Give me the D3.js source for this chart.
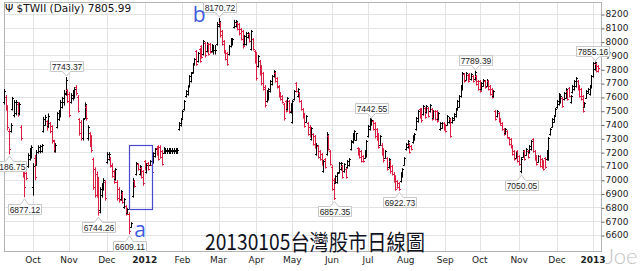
<!DOCTYPE html>
<html>
<head>
<meta charset="utf-8">
<script src="https://cdn.jsdelivr.net/npm/d3@7/dist/d3.min.js"></script>
<style>
  html, body { margin: 0; padding: 0; background: #fff; }
  svg { display: block; }
</style>
</head>
<body>
<svg class="mainSvg"></svg>
<script>
// ===========================================================================
//     data area
// ===========================================================================
const title = '$TWII (Daily) 7805.99';
const caption = '20130105台灣股市日線圖';

// first bar index of each month and its label
const monthStarts = [17, 38, 60, 82, 104, 125, 147, 168, 191, 212, 234, 257, 277, 300, 322, 343];
const monthLabels = ['Oct', 'Nov', 'Dec', '2012', 'Feb', 'Mar', 'Apr', 'May', 'Jun', 'Jul', 'Aug', 'Sep', 'Oct', 'Nov', 'Dec', '2013'];

const yTicks = [6600, 6700, 6800, 6900, 7000, 7100, 7200, 7300, 7400, 7500, 7600, 7700, 7800, 7900, 8000, 8100, 8200];

// daily bars, [open, high, low, close], 2011-09-08 .. 2013-01-04
const bars = [
  // Sep 2011
  [7565, 7657, 7548, 7640], [7600, 7613, 7504, 7515], [7520, 7540, 7360, 7380], [7350, 7370, 7187, 7220],
  [7355, 7410, 7345, 7400], [7515, 7600, 7505, 7590], [7470, 7577, 7455, 7560], [7480, 7577, 7470, 7565],
  [7550, 7562, 7460, 7475], [7480, 7560, 7470, 7545], [7385, 7395, 7287, 7300], [7075, 7084, 7019, 7030],
  [7100, 7120, 6877, 6950], [7050, 7060, 7000, 7010], [7100, 7192, 7090, 7180], [7150, 7230, 7142, 7220],
  [7170, 7250, 7157, 7240],
  // Oct 2011
  [6950, 7120, 6888, 7100], [7160, 7180, 7000, 7020], [7110, 7215, 7105, 7200], [7200, 7250, 7193, 7240],
  [7205, 7252, 7195, 7245], [7210, 7258, 7200, 7250], [7350, 7455, 7345, 7440], [7400, 7470, 7395, 7455],
  [7425, 7430, 7360, 7380], [7390, 7480, 7380, 7465], [7410, 7418, 7340, 7350], [7390, 7395, 7265, 7280],
  [7285, 7290, 7200, 7220], [7210, 7265, 7200, 7255], [7380, 7490, 7375, 7480], [7440, 7505, 7430, 7495],
  [7470, 7577, 7455, 7560], [7530, 7600, 7520, 7590], [7560, 7650, 7540, 7620], [7630, 7743, 7612, 7720],
  [7650, 7655, 7560, 7570],
  // Nov 2011
  [7620, 7635, 7455, 7470], [7560, 7627, 7555, 7610], [7590, 7650, 7577, 7640], [7600, 7670, 7590, 7660],
  [7675, 7685, 7613, 7630], [7600, 7613, 7490, 7500], [7440, 7446, 7323, 7335], [7420, 7432, 7287, 7300],
  [7300, 7446, 7287, 7440], [7450, 7560, 7446, 7545], [7530, 7540, 7432, 7445], [7300, 7395, 7287, 7380],
  [7335, 7345, 7240, 7255], [7310, 7323, 7200, 7215], [7150, 7160, 6930, 6950], [7080, 7090, 6874, 6890],
  [7040, 7060, 6874, 6890], [7000, 7020, 6744, 6770], [6780, 6946, 6760, 6930], [6890, 6975, 6874, 6965],
  [6940, 7012, 6925, 7000], [6985, 6997, 6852, 6870],
  // Dec 2011
  [7130, 7200, 7120, 7190], [7150, 7200, 7142, 7185], [7155, 7165, 7092, 7100], [7110, 7120, 7019, 7030],
  [7060, 7070, 6975, 6985], [7005, 7084, 6997, 7075], [6985, 6997, 6852, 6865], [6935, 6946, 6838, 6850],
  [6860, 6925, 6852, 6915], [6900, 6910, 6830, 6840], [6800, 6867, 6794, 6860], [6810, 6816, 6744, 6750],
  [6762, 6794, 6758, 6788], [6755, 6765, 6609, 6630], [6660, 6693, 6657, 6688], [6880, 7012, 6874, 7000],
  [6990, 6997, 6946, 6955], [7040, 7128, 7034, 7120], [7115, 7120, 7070, 7080], [7040, 7106, 7034, 7100],
  [7085, 7092, 7012, 7020], [7060, 7070, 6960, 6975],
  // Jan 2012 (holiday days are flat filler bars)
  [7135, 7142, 7070, 7080], [7055, 7120, 7048, 7110], [7120, 7128, 7070, 7080], [7110, 7142, 7106, 7138],
  [7110, 7120, 7048, 7055], [7125, 7200, 7120, 7195], [7170, 7230, 7164, 7225], [7230, 7236, 7178, 7185],
  [7245, 7250, 7142, 7150], [7240, 7250, 7157, 7165], [7210, 7215, 7106, 7115], [7195, 7236, 7193, 7230],
  [7210, 7230, 7190, 7212], [7210, 7230, 7190, 7212], [7210, 7230, 7190, 7212], [7210, 7230, 7190, 7212],
  [7210, 7230, 7190, 7212], [7210, 7230, 7190, 7212], [7210, 7230, 7190, 7212], [7210, 7230, 7190, 7212],
  [7365, 7418, 7359, 7410], [7395, 7447, 7389, 7440],
  // Feb 2012
  [7450, 7504, 7446, 7500], [7510, 7577, 7504, 7570], [7605, 7649, 7599, 7645], [7620, 7685, 7613, 7680],
  [7680, 7758, 7671, 7750], [7715, 7780, 7707, 7775], [7780, 7845, 7772, 7840], [7835, 7881, 7830, 7875],
  [7930, 7939, 7830, 7840], [7860, 7925, 7852, 7920], [7945, 7954, 7852, 7860], [7965, 7975, 7881, 7890],
  [7910, 8012, 7903, 8005], [7990, 7997, 7888, 7900], [7930, 7997, 7925, 7990], [7980, 7990, 7903, 7910],
  [7980, 7990, 7917, 7925], [7930, 7983, 7925, 7975], [7940, 7975, 7910, 7942], [7940, 7975, 7910, 7942],
  [7985, 8142, 7975, 8130],
  // Mar 2012
  [8110, 8171, 8106, 8150], [8135, 8142, 8033, 8045], [8075, 8084, 7975, 7985], [8005, 8012, 7917, 7925],
  [7930, 7939, 7867, 7875], [7915, 7925, 7830, 7840], [7910, 7975, 7903, 7970], [7965, 8026, 7961, 8020],
  [7980, 8026, 7975, 8020], [8105, 8157, 8099, 8145], [8110, 8157, 8106, 8150], [8135, 8142, 8084, 8090],
  [8125, 8135, 8048, 8060], [8090, 8099, 8012, 8020], [8075, 8084, 7954, 7965], [7980, 8048, 7975, 8040],
  [7985, 8070, 7975, 8060], [8030, 8070, 8026, 8065], [8055, 8062, 7997, 8005], [7950, 8084, 7939, 8075],
  [8020, 8026, 7939, 7945], [7930, 7939, 7845, 7855],
  // Apr 2012
  [7915, 7925, 7722, 7735], [7820, 7903, 7816, 7895], [7860, 7867, 7758, 7770], [7820, 7830, 7686, 7700],
  [7770, 7780, 7649, 7660], [7675, 7686, 7526, 7540], [7570, 7649, 7562, 7640], [7585, 7664, 7577, 7655],
  [7640, 7722, 7635, 7715], [7690, 7758, 7686, 7750], [7750, 7794, 7743, 7790], [7770, 7780, 7707, 7715],
  [7735, 7743, 7664, 7670], [7680, 7686, 7599, 7610], [7625, 7635, 7577, 7585], [7605, 7613, 7555, 7565],
  [7545, 7555, 7432, 7445], [7570, 7577, 7490, 7500], [7510, 7599, 7504, 7590], [7570, 7577, 7483, 7495],
  [7490, 7555, 7483, 7545],
  // May 2012
  [7420, 7577, 7410, 7570], [7585, 7649, 7577, 7640], [7700, 7707, 7635, 7645], [7605, 7664, 7599, 7660],
  [7625, 7635, 7562, 7570], [7570, 7577, 7504, 7510], [7510, 7519, 7446, 7455], [7475, 7483, 7381, 7390],
  [7420, 7468, 7417, 7460], [7410, 7417, 7323, 7330], [7385, 7396, 7309, 7320], [7295, 7381, 7287, 7375],
  [7330, 7337, 7251, 7260], [7315, 7323, 7229, 7240], [7185, 7265, 7178, 7255], [7245, 7251, 7157, 7165],
  [7205, 7215, 7142, 7150], [7185, 7193, 7106, 7115], [7060, 7142, 7055, 7135], [7150, 7157, 7084, 7090],
  [7185, 7345, 7178, 7330], [7315, 7323, 7215, 7225], [7205, 7215, 7106, 7115],
  // Jun 2012
  [7095, 7106, 6925, 6935], [7000, 7012, 6857, 6870], [6980, 7033, 6975, 7025], [6985, 7055, 6975, 7050],
  [7055, 7128, 7048, 7120], [7075, 7128, 7070, 7120], [7100, 7106, 7012, 7020], [7060, 7120, 7055, 7115],
  [7075, 7084, 7012, 7020], [7090, 7142, 7084, 7135], [7105, 7157, 7099, 7150], [7220, 7287, 7215, 7280],
  [7270, 7338, 7265, 7330], [7295, 7359, 7287, 7350], [7290, 7338, 7287, 7335], [7230, 7236, 7178, 7185],
  [7220, 7229, 7157, 7165], [7205, 7215, 7128, 7135], [7170, 7178, 7128, 7135], [7160, 7215, 7157, 7210],
  [7170, 7287, 7164, 7280],
  // Jul 2012
  [7315, 7396, 7309, 7390], [7365, 7446, 7359, 7440], [7400, 7443, 7396, 7435], [7425, 7432, 7359, 7370],
  [7410, 7417, 7302, 7315], [7365, 7374, 7287, 7295], [7330, 7338, 7229, 7240], [7255, 7323, 7251, 7315],
  [7255, 7265, 7178, 7190], [7220, 7229, 7128, 7140], [7160, 7215, 7157, 7210], [7155, 7164, 7070, 7080],
  [7090, 7157, 7084, 7150], [7135, 7142, 7048, 7060], [7100, 7106, 7034, 7040], [7045, 7055, 6983, 6990],
  [7025, 7033, 6925, 6935], [6990, 6997, 6939, 6945], [6975, 6983, 6923, 6930], [6990, 7055, 6983, 7045],
  [7025, 7084, 7019, 7075], [7110, 7164, 7106, 7155],
  // Aug 2012
  [7220, 7265, 7215, 7260], [7235, 7287, 7229, 7280], [7255, 7265, 7193, 7200], [7245, 7251, 7215, 7220],
  [7270, 7323, 7265, 7315], [7290, 7338, 7287, 7330], [7365, 7454, 7359, 7445], [7425, 7504, 7417, 7495],
  [7510, 7519, 7446, 7455], [7510, 7519, 7417, 7430], [7475, 7541, 7468, 7535], [7520, 7526, 7446, 7455],
  [7490, 7541, 7483, 7535], [7520, 7526, 7454, 7460], [7495, 7548, 7490, 7540], [7510, 7519, 7432, 7440],
  [7450, 7504, 7446, 7495], [7495, 7504, 7432, 7440], [7495, 7504, 7417, 7425], [7440, 7490, 7432, 7485],
  [7365, 7417, 7359, 7410], [7378, 7417, 7374, 7412], [7410, 7417, 7359, 7365],
  // Sep 2012
  [7395, 7403, 7345, 7350], [7400, 7468, 7396, 7460], [7415, 7454, 7410, 7450], [7440, 7446, 7309, 7320],
  [7415, 7454, 7410, 7450], [7435, 7482, 7432, 7478], [7460, 7519, 7454, 7510], [7510, 7577, 7504, 7570],
  [7530, 7613, 7526, 7605], [7605, 7686, 7599, 7680], [7655, 7780, 7649, 7770], [7765, 7772, 7707, 7715],
  [7725, 7780, 7722, 7775], [7760, 7765, 7707, 7712], [7765, 7772, 7722, 7730], [7728, 7772, 7722, 7765],
  [7750, 7758, 7707, 7715], [7730, 7789, 7722, 7780], [7750, 7758, 7686, 7695], [7715, 7722, 7649, 7655],
  // Oct 2012
  [7715, 7722, 7635, 7645], [7655, 7707, 7649, 7700], [7682, 7729, 7678, 7722], [7715, 7722, 7664, 7670],
  [7682, 7729, 7678, 7722], [7715, 7722, 7649, 7655], [7680, 7686, 7613, 7620], [7655, 7664, 7591, 7600],
  [7603, 7649, 7599, 7645], [7495, 7504, 7432, 7440], [7460, 7504, 7454, 7498], [7480, 7490, 7417, 7425],
  [7440, 7446, 7396, 7400], [7410, 7417, 7359, 7365], [7365, 7374, 7323, 7330], [7335, 7374, 7330, 7370],
  [7350, 7359, 7302, 7310], [7300, 7309, 7251, 7258], [7295, 7302, 7229, 7235], [7245, 7251, 7178, 7185],
  [7205, 7215, 7142, 7150], [7160, 7200, 7157, 7195], [7205, 7215, 7128, 7135],
  // Nov 2012
  [7170, 7178, 7106, 7115], [7060, 7164, 7050, 7150], [7168, 7215, 7164, 7210], [7205, 7215, 7142, 7150],
  [7182, 7229, 7178, 7222], [7205, 7215, 7157, 7165], [7198, 7251, 7193, 7245], [7220, 7287, 7215, 7280],
  [7295, 7302, 7200, 7210], [7205, 7215, 7142, 7150], [7170, 7178, 7106, 7115], [7132, 7178, 7128, 7170],
  [7170, 7178, 7092, 7100], [7150, 7157, 7084, 7090], [7135, 7142, 7070, 7078], [7155, 7164, 7084, 7092],
  [7148, 7215, 7142, 7208], [7148, 7309, 7142, 7300], [7328, 7374, 7323, 7368], [7385, 7446, 7381, 7440],
  [7420, 7468, 7417, 7462], [7472, 7519, 7468, 7512],
  // Dec 2012
  [7525, 7577, 7519, 7570], [7548, 7628, 7541, 7620], [7560, 7613, 7555, 7605], [7590, 7599, 7526, 7535],
  [7582, 7635, 7577, 7628], [7595, 7664, 7591, 7658], [7640, 7649, 7577, 7585], [7665, 7671, 7599, 7605],
  [7560, 7613, 7555, 7608], [7632, 7686, 7628, 7680], [7655, 7722, 7649, 7715], [7678, 7743, 7671, 7738],
  [7715, 7722, 7649, 7655], [7680, 7686, 7599, 7608], [7655, 7664, 7577, 7585], [7605, 7613, 7490, 7500],
  [7530, 7562, 7526, 7558], [7595, 7649, 7591, 7642], [7630, 7664, 7628, 7660], [7618, 7686, 7613, 7680],
  [7670, 7758, 7664, 7750],
  // Jan 2013
  [7750, 7852, 7743, 7845], [7800, 7855, 7794, 7850], [7838, 7845, 7780, 7790], [7825, 7830, 7780, 7806],
];

// price callouts: bar index, value, side
const callouts = [
  [3, 7186.75, 'low'], [12, 6877.12, 'low'], [36, 7743.37, 'high'], [55, 6744.26, 'low'],
  [73, 6609.11, 'low'], [125, 8170.72, 'high'], [192, 6857.35, 'low'], [214, 7442.55, 'high'],
  [230, 6922.73, 'low'], [274, 7789.39, 'high'], [301, 7050.05, 'low'], [344, 7855.16, 'high'],
];

// hand drawn marks: box around bars (from bar, to bar, top, bottom), letters (bar, price)
const markBox = [74, 86, 7250, 6790];
const markLetters = [['a', 76, 6585], ['b', 110, 8142]];

(function () {
  const initWidth = 640;
  const initHeight = 271;
  const plot = { left: 4, right: 601, top: 2, bottom: 251 };
  const upColor = '#000000';
  const downColor = '#dc1e42';
  const gridColor = '#e3e3e3';
  const blue = '#3f5be0';

  const svg = d3.select('.mainSvg')
    .attr('width', initWidth)
    .attr('height', initHeight);

  const x = d3.scaleLinear()
    .domain([0, bars.length - 1])
    .range([3.8, 598.2]);

  const y = d3.scaleLinear()
    .domain([6600, 8200])
    .range([235, 14]);

  const px = i => Math.round(x(i)) + 0.5;

  // ===========================================================================
  //      grid + frame
  // ===========================================================================
  svg.append('g')
    .selectAll('line')
    .data(yTicks)
    .enter()
    .append('line')
    .attr('x1', plot.left)
    .attr('x2', plot.right)
    .attr('y1', d => Math.round(y(d)) + 0.5)
    .attr('y2', d => Math.round(y(d)) + 0.5)
    .attr('stroke', gridColor);

  svg.append('g')
    .selectAll('line')
    .data(monthStarts)
    .enter()
    .append('line')
    .attr('x1', d => Math.round(x(d)) + 0.5)
    .attr('x2', d => Math.round(x(d)) + 0.5)
    .attr('y1', plot.top)
    .attr('y2', plot.bottom)
    .attr('stroke', gridColor);

  svg.append('rect')
    .attr('x', plot.left + 0.5)
    .attr('y', plot.top + 0.5)
    .attr('width', plot.right - plot.left)
    .attr('height', plot.bottom - plot.top)
    .attr('fill', 'none')
    .attr('stroke', '#b4b4b4');

  // ===========================================================================
  //      axes
  // ===========================================================================
  const yAxis = svg.append('g')
    .attr('transform', `translate(${plot.right + 0.5},0)`)
    .call(d3.axisRight(y).tickValues(yTicks).tickSize(3).tickPadding(1).tickFormat(d3.format('d')));
  yAxis.select('.domain').remove();
  yAxis.selectAll('line').attr('stroke', '#666').attr('transform', 'translate(0,0.5)');
  yAxis.selectAll('text')
    .attr('font-family', '"DejaVu Sans", Verdana, sans-serif')
    .attr('font-size', 9)
    .attr('fill', '#222');

  svg.append('g')
    .selectAll('text')
    .data(monthStarts)
    .enter()
    .append('text')
    .attr('x', d => x(d))
    .attr('y', 263)
    .attr('text-anchor', 'middle')
    .attr('font-family', '"DejaVu Sans", Verdana, sans-serif')
    .attr('font-size', 9)
    .attr('font-weight', (d, i) => (/^\d+$/.test(monthLabels[i]) ? 'bold' : 'normal'))
    .attr('fill', '#222')
    .text((d, i) => monthLabels[i]);

  // ===========================================================================
  //      ohlc bars
  // ===========================================================================
  const barG = svg.append('g')
    .selectAll('g')
    .data(bars)
    .enter()
    .append('g')
    .attr('stroke', d => (d[3] >= d[0] ? upColor : downColor))
    .attr('stroke-width', 1);

  barG.append('line')
    .attr('x1', (d, i) => px(i))
    .attr('x2', (d, i) => px(i))
    .attr('y1', d => y(d[1]))
    .attr('y2', d => y(d[2]) + 0.5);

  barG.append('line')
    .attr('x1', (d, i) => px(i) - 1.5)
    .attr('x2', (d, i) => px(i))
    .attr('y1', d => Math.round(y(d[0])) + 0.5)
    .attr('y2', d => Math.round(y(d[0])) + 0.5);

  barG.append('line')
    .attr('x1', (d, i) => px(i))
    .attr('x2', (d, i) => px(i) + 1.5)
    .attr('y1', d => Math.round(y(d[3])) + 0.5)
    .attr('y2', d => Math.round(y(d[3])) + 0.5);

  // ===========================================================================
  //      title
  // ===========================================================================
  svg.append('rect')
    .attr('x', 5)
    .attr('y', 3)
    .attr('width', 134)
    .attr('height', 10)
    .attr('fill', '#fff');

  svg.append('text')
    .attr('x', 5)
    .attr('y', 12)
    .attr('font-family', '"DejaVu Sans", Verdana, sans-serif')
    .attr('font-size', 10.5)
    .attr('fill', '#111')
    .text('\u03a8 ' + title);

  // ===========================================================================
  //      callouts
  // ===========================================================================
  const boxW = 33;
  const boxH = 10;
  callouts.forEach(function (c) {
    const tipX = px(c[0]);
    const isHigh = c[2] === 'high';
    const tipY = isHigh ? y(c[1]) - 1 : y(c[1]) + 2;
    const cx = Math.min(tipX, 592);
    const left = Math.round(cx - boxW / 2) + 0.5;
    const right = left + boxW;
    const edge = isHigh ? Math.round(tipY - 5) + 0.5 : Math.round(tipY + 5) + 0.5;
    const far = isHigh ? edge - boxH : edge + boxH;
    const d = `M${left},${far} H${right} V${edge} H${tipX + 4} L${tipX},${tipY} L${tipX - 4},${edge} H${left} Z`;
    svg.append('path')
      .attr('d', d)
      .attr('fill', '#fff')
      .attr('stroke', '#c8c8c8');
    svg.append('text')
      .attr('x', (left + right) / 2)
      .attr('y', (edge + far) / 2 + 3)
      .attr('text-anchor', 'middle')
      .attr('font-family', '"Liberation Sans", Arial, sans-serif')
      .attr('font-size', 8.5)
      .attr('fill', '#222')
      .text(c[1].toFixed(2));
  });

  // ===========================================================================
  //      hand marks
  // ===========================================================================
  svg.append('rect')
    .attr('x', Math.round(x(markBox[0]) - 2) + 0.5)
    .attr('y', Math.round(y(markBox[2])) + 0.5)
    .attr('width', Math.round(x(markBox[1]) - x(markBox[0])) + 2)
    .attr('height', Math.round(y(markBox[3]) - y(markBox[2])))
    .attr('fill', 'none')
    .attr('stroke', '#4a4ad0')
    .attr('stroke-width', 1.2);

  svg.append('g')
    .selectAll('text')
    .data(markLetters)
    .enter()
    .append('text')
    .attr('x', d => x(d[1]))
    .attr('y', d => y(d[2]))
    .attr('font-family', '"Open Sans", sans-serif')
    .attr('font-size', 21)
    .attr('fill', blue)
    .text(d => d[0]);

  svg.append('text')
    .attr('x', 205)
    .attr('y', 250)
    .attr('font-family', '"Noto Sans CJK TC", "Noto Sans CJK SC", sans-serif')
    .attr('font-size', 22)
    .attr('textLength', 220)
    .attr('lengthAdjust', 'spacingAndGlyphs')
    .attr('fill', '#10121e')
    .text(caption);

  svg.append('text')
    .attr('x', 605)
    .attr('y', 264)
    .attr('font-family', 'Lato, "Open Sans", sans-serif')
    .attr('font-weight', 300)
    .attr('font-size', 22)
    .attr('fill', '#c4c4c4')
    .text('Joe');
})();
</script>
</body>
</html>
